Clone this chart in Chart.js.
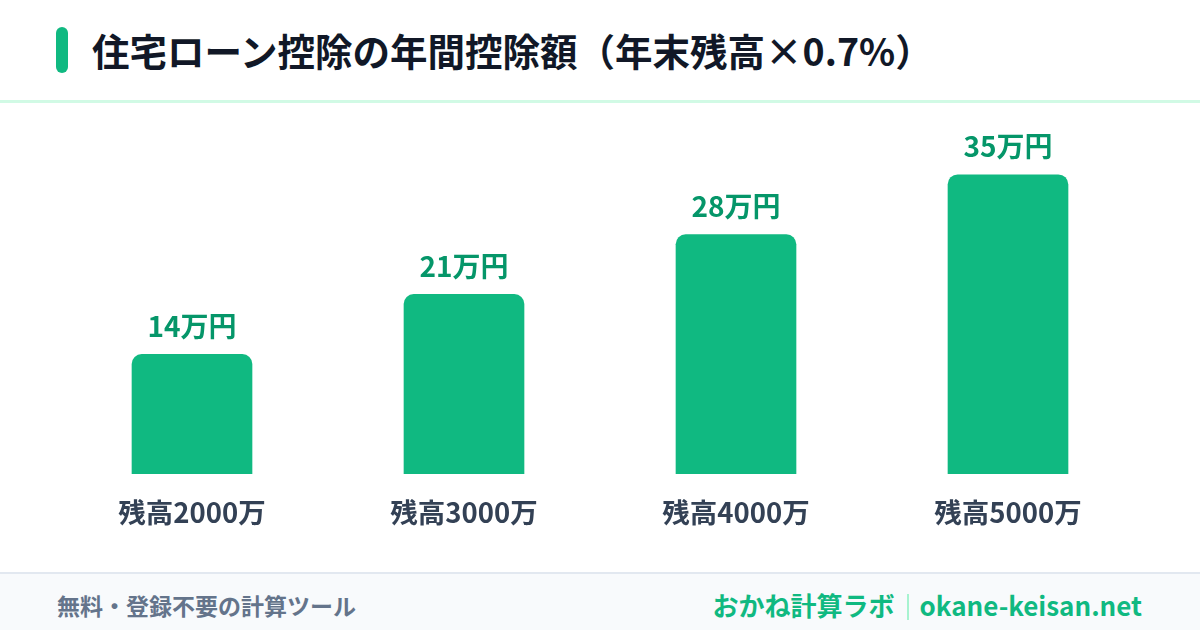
<!DOCTYPE html>
<html lang="ja">
<head>
<meta charset="utf-8">
<script src="https://cdn.jsdelivr.net/npm/chart.js@4.4.1/dist/chart.umd.min.js"></script>
<style>
  html, body { margin: 0; padding: 0; }
  body { width: 1200px; height: 630px; position: relative; background: #ffffff; overflow: hidden;
         font-family: "Noto Sans CJK JP", "Noto Sans", sans-serif; }
  #accent { position: absolute; left: 56px; top: 27px; width: 12px; height: 46px; border-radius: 6px; background: #10b981; }
  #title { position: absolute; left: 92px; top: 27px; height: 46px; line-height: 46px; font-size: 37.5px; font-weight: 700; color: #111827; white-space: nowrap; }
  #rule { position: absolute; left: 0; top: 100px; width: 1200px; height: 3px; background: #d1fae5; }
  #chartbox { position: absolute; left: 0; top: 104px; width: 1200px; height: 468px; }
  #footer { position: absolute; left: 0; top: 572px; width: 1200px; height: 58px; background: #f8fafc; border-top: 2px solid #e2e8f0; box-sizing: border-box; }
  #fleft { position: absolute; left: 57px; top: 0; height: 56px; line-height: 62px; font-size: 23px; font-weight: 700; color: #64748b; white-space: nowrap; }
  #fright { position: absolute; right: 58px; top: 0; height: 56px; line-height: 62px; font-size: 26px; font-weight: 700; color: #10b981; white-space: nowrap; }
  #fright .sep { display: inline-block; width: 2px; height: 26px; background: #a7f3d0; vertical-align: middle; margin: 0 11px 0 12px; position: relative; top: -2px; }
</style>
</head>
<body>
<div id="accent"></div>
<div id="title">住宅ローン控除の年間控除額（年末残高×0.7%）</div>
<div id="rule"></div>
<div id="chartbox"><canvas id="c" width="1200" height="468"></canvas></div>
<div id="footer">
  <div id="fleft">無料・登録不要の計算ツール</div>
  <div id="fright">おかね計算ラボ<span class="sep"></span>okane-keisan.net</div>
</div>
<script>
const categories = ["残高2000万", "残高3000万", "残高4000万", "残高5000万"];
const deductionValues = [14, 21, 28, 35];
const valueLabels = ["14万円", "21万円", "28万円", "35万円"];

const valueLabelPlugin = {
  id: "valueLabels",
  afterDatasetsDraw(chart) {
    const ctx = chart.ctx;
    const meta = chart.getDatasetMeta(0);
    ctx.save();
    ctx.font = '700 28px "Noto Sans CJK JP"';
    ctx.fillStyle = "#059669";
    ctx.textAlign = "center";
    ctx.textBaseline = "middle";
    meta.data.forEach((bar, i) => {
      ctx.fillText(valueLabels[i], bar.x, bar.y - 28);
    });
    ctx.restore();
  }
};

new Chart(document.getElementById("c"), {
  type: "bar",
  data: {
    labels: categories,
    datasets: [{
      data: deductionValues,
      backgroundColor: "#10b981",
      borderRadius: 10,
      borderSkipped: "bottom",
      barThickness: 120
    }]
  },
  options: {
    responsive: false,
    animation: false,
    devicePixelRatio: 1,
    layout: { padding: { left: 56, right: 56, top: 28, bottom: 0 } },
    plugins: { legend: { display: false }, tooltip: { enabled: false } },
    scales: {
      x: {
        grid: { display: false, drawTicks: false },
        border: { display: false },
        ticks: { color: "#334155", padding: 22, font: { family: "Noto Sans CJK JP", size: 27.5, weight: "700" } },
        afterFit(scale) { scale.height = 98; }
      },
      y: {
        display: false,
        min: 0,
        max: 40
      }
    }
  },
  plugins: [valueLabelPlugin]
});
</script>
</body>
</html>
